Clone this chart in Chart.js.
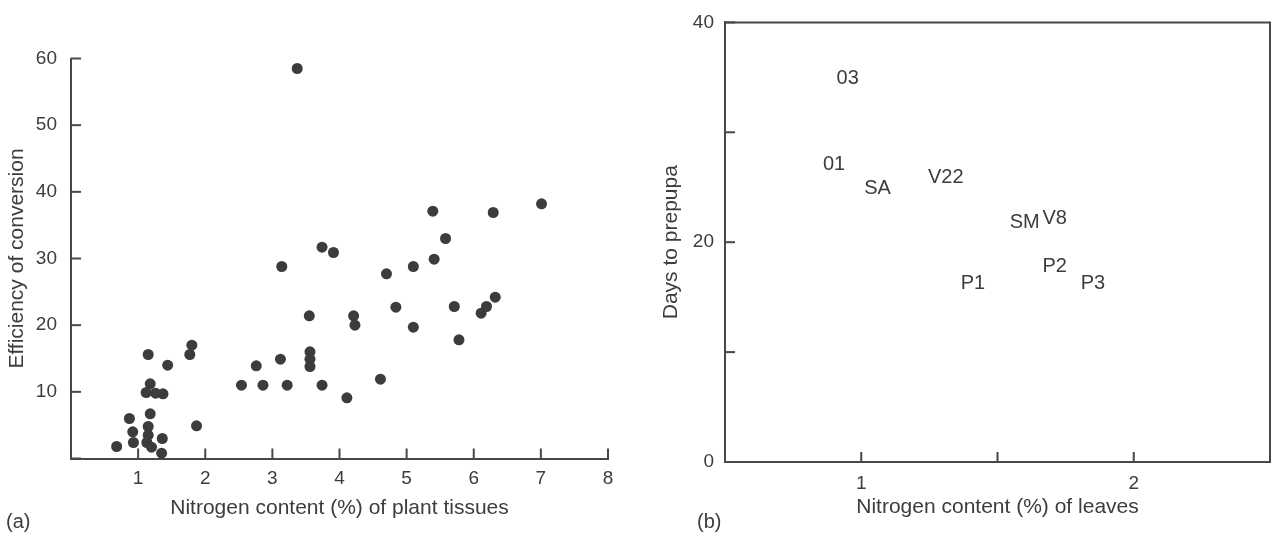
<!DOCTYPE html>
<html>
<head>
<meta charset="utf-8">
<title>Nitrogen content vs conversion efficiency and days to prepupa</title>
<script src="https://cdn.jsdelivr.net/npm/chart.js@4.4.0/dist/chart.umd.min.js"></script>
<style>
    html, body { margin: 0; padding: 0; background: #ffffff; }
    #wrap { position: relative; width: 1277px; height: 536px; overflow: hidden; }
    canvas { position: absolute; top: 0; }
    #chartA { left: 0; }
    #chartB { left: 640px; }
</style>
</head>
<body>
<div id="wrap">
    <canvas id="chartA" width="640" height="536"></canvas>
    <canvas id="chartB" width="637" height="536"></canvas>
</div>
<script>
// ---- panel (a): nitrogen content of plant tissues vs efficiency of conversion
const nitrogenA = [
    0.68, 0.87, 0.92, 0.93, 1.15, 1.44, 1.18, 1.12, 1.26, 1.37,
    1.18, 1.15, 1.15, 1.13, 1.20, 1.36, 1.35, 1.80, 1.77, 1.87,
    2.54, 2.76, 2.86, 3.12, 3.22, 3.14, 3.37, 3.55, 3.56, 3.56,
    3.56, 3.74, 3.74, 3.91, 4.11, 4.21, 4.23, 4.61, 4.70, 4.84,
    5.10, 5.10, 5.39, 5.41, 5.58, 5.71, 5.78, 6.11, 6.19, 6.29,
    6.32, 7.01
];
const efficiencyA = [
    1.8, 6.0, 4.0, 2.4, 15.6, 14.0, 11.2, 9.9, 9.8, 9.7,
    6.7, 4.8, 3.5, 2.4, 1.7, 3.0, 0.8, 17.0, 15.6, 4.9,
    11.0, 13.9, 11.0, 14.9, 11.0, 28.8, 58.5, 21.4, 16.0, 14.9,
    13.8, 11.0, 31.7, 30.9, 9.1, 21.4, 20.0, 11.9, 27.7, 22.7,
    28.8, 19.7, 37.1, 29.9, 33.0, 22.8, 17.8, 21.8, 22.8, 36.9,
    24.2, 38.2
];
const xTicksA = [0, 1, 2, 3, 4, 5, 6, 7, 8];
const xTickLabelsA = ['', '1', '2', '3', '4', '5', '6', '7', '8'];
const yTicksA = [0, 10, 20, 30, 40, 50, 60];
const yTickLabelsA = ['', '10', '20', '30', '40', '50', '60'];

// ---- panel (b): nitrogen content of leaves vs days to prepupa
const varietiesB = ['03', '01', 'SA', 'V22', 'SM', 'V8', 'P2', 'P1', 'P3'];
const nitrogenB = [0.95, 0.90, 1.06, 1.31, 1.60, 1.71, 1.71, 1.41, 1.85];
const daysB = [34.9, 27.1, 24.9, 25.9, 21.8, 22.2, 17.8, 16.2, 16.2];
const xTicksB = [1, 1.5, 2];
const xTickLabelsB = ['1', '', '2'];
const yTicksB = [0, 10, 20, 30, 40];
const yTickLabelsB = ['0', '', '20', '', '40'];

const INK = '#3c3c3c';
const AXIS = '#474747';
const FONT = "'Liberation Sans', Arial, Helvetica, sans-serif";
const TICK_LEN = 10;

// tick marks pointing into the plot, placed through the scales
const inwardTicks = {
    id: 'inwardTicks',
    afterDraw(chart) {
        const { ctx, chartArea, scales } = chart;
        ctx.save();
        ctx.strokeStyle = AXIS;
        ctx.lineWidth = 2;
        scales.x.ticks.forEach(t => {
            const px = scales.x.getPixelForValue(t.value);
            ctx.beginPath();
            ctx.moveTo(px, chartArea.bottom);
            ctx.lineTo(px, chartArea.bottom - TICK_LEN);
            ctx.stroke();
        });
        scales.y.ticks.forEach(t => {
            const py = scales.y.getPixelForValue(t.value);
            ctx.beginPath();
            ctx.moveTo(chartArea.left, py);
            ctx.lineTo(chartArea.left + TICK_LEN, py);
            ctx.stroke();
        });
        ctx.restore();
    }
};

// closes the plot box (top and right sides)
const frameBox = {
    id: 'frameBox',
    afterDraw(chart) {
        const { ctx, chartArea } = chart;
        ctx.save();
        ctx.strokeStyle = AXIS;
        ctx.lineWidth = 2;
        ctx.beginPath();
        ctx.moveTo(chartArea.left, chartArea.top);
        ctx.lineTo(chartArea.right, chartArea.top);
        ctx.lineTo(chartArea.right, chartArea.bottom);
        ctx.stroke();
        ctx.restore();
    }
};

// writes the variety codes at their data positions
const pointLabels = {
    id: 'pointLabels',
    afterDatasetsDraw(chart) {
        const { ctx } = chart;
        const meta = chart.getDatasetMeta(0);
        ctx.save();
        ctx.fillStyle = INK;
        ctx.font = '20px ' + FONT;
        ctx.textAlign = 'center';
        ctx.textBaseline = 'middle';
        meta.data.forEach((pt, i) => {
            ctx.fillText(varietiesB[i], pt.x, pt.y);
        });
        ctx.restore();
    }
};

// panel letter in the lower left corner
const panelTag = {
    id: 'panelTag',
    afterDraw(chart, args, opts) {
        const { ctx } = chart;
        ctx.save();
        ctx.fillStyle = INK;
        ctx.font = '20px ' + FONT;
        ctx.textAlign = 'left';
        ctx.textBaseline = 'middle';
        ctx.fillText(opts.text, opts.x, opts.y);
        ctx.restore();
    }
};

function axisX(min, max, tickValues, tickLabels, title, labelPad, titlePad, height) {
    return {
        type: 'linear',
        min,
        max,
        afterBuildTicks: s => { s.ticks = tickValues.map(v => ({ value: v })); },
        afterFit: s => { s.height = height; },
        grid: { display: false, drawTicks: false },
        border: { display: true, color: AXIS, width: 2 },
        ticks: {
            color: INK,
            font: { family: FONT, size: 19 },
            padding: labelPad,
            maxRotation: 0,
            autoSkip: false,
            callback: (v, i) => tickLabels[i]
        },
        title: {
            display: true,
            text: title,
            color: INK,
            font: { family: FONT, size: 21 },
            padding: { top: 0, bottom: titlePad }
        }
    };
}

function axisY(min, max, tickValues, tickLabels, title, labelPad, titlePad, width) {
    return {
        type: 'linear',
        min,
        max,
        afterBuildTicks: s => { s.ticks = tickValues.map(v => ({ value: v })); },
        afterFit: s => { s.width = width; },
        grid: { display: false, drawTicks: false },
        border: { display: true, color: AXIS, width: 2 },
        ticks: {
            color: INK,
            font: { family: FONT, size: 19 },
            padding: labelPad,
            autoSkip: false,
            callback: (v, i) => tickLabels[i]
        },
        title: {
            display: true,
            text: title,
            color: INK,
            font: { family: FONT, size: 21 },
            padding: { top: titlePad, bottom: 0 }
        }
    };
}

new Chart(document.getElementById('chartA'), {
    type: 'scatter',
    data: {
        datasets: [{
            data: nitrogenA.map((x, i) => ({ x, y: efficiencyA[i] })),
            backgroundColor: INK,
            borderColor: INK,
            borderWidth: 0,
            pointRadius: 5.5,
            clip: false
        }]
    },
    options: {
        responsive: false,
        animation: false,
        devicePixelRatio: 1,
        layout: { padding: { left: 0, top: 58.5, right: 32, bottom: 0 } },
        plugins: {
            legend: { display: false },
            tooltip: { enabled: false },
            panelTag: { text: '(a)', x: 6, y: 522 }
        },
        scales: {
            x: axisX(0, 8, xTicksA, xTickLabelsA, 'Nitrogen content (%) of plant tissues', 9, 15, 77.5),
            y: axisY(0, 60, yTicksA, yTickLabelsA, 'Efficiency of conversion', 14, 5, 71)
        }
    },
    plugins: [inwardTicks, panelTag]
});

new Chart(document.getElementById('chartB'), {
    type: 'scatter',
    data: {
        datasets: [{
            data: nitrogenB.map((x, i) => ({ x, y: daysB[i] })),
            pointRadius: 0,
            clip: false
        }]
    },
    options: {
        responsive: false,
        animation: false,
        devicePixelRatio: 1,
        layout: { padding: { left: 0, top: 18, right: 7, bottom: 0 } },
        plugins: {
            legend: { display: false },
            tooltip: { enabled: false },
            panelTag: { text: '(b)', x: 57, y: 522 }
        },
        scales: {
            x: axisX(0.5, 2.5, xTicksB, xTickLabelsB, 'Nitrogen content (%) of leaves', 10, 16, 74),
            y: axisY(0, 40, yTicksB, yTickLabelsB, 'Days to prepupa', 11, 19, 85)
        }
    },
    plugins: [inwardTicks, frameBox, pointLabels, panelTag]
});
</script>
</body>
</html>
